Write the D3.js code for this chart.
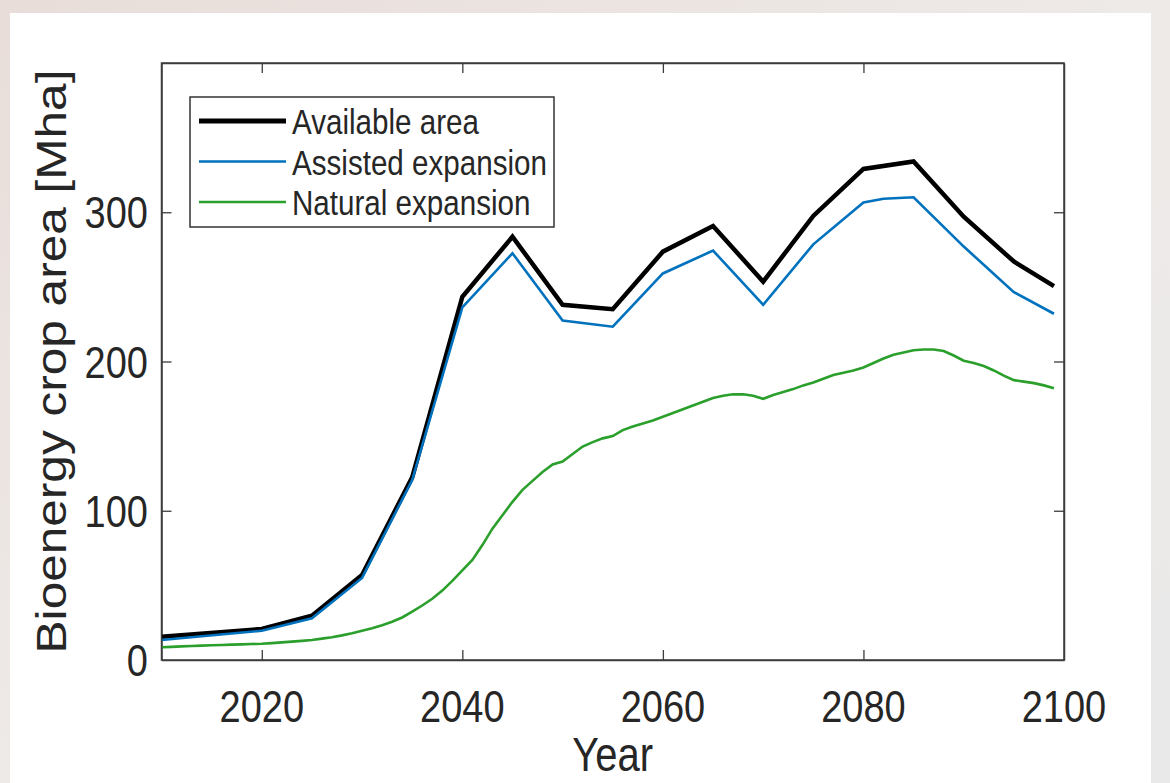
<!DOCTYPE html>
<html>
<head>
<meta charset="utf-8">
<script src="https://cdn.jsdelivr.net/npm/d3@7"></script>
<style>
  html, body { margin: 0; padding: 0; }
  body { width: 1170px; height: 783px; overflow: hidden; background: #e9e4e2; }
  svg text { font-family: "Liberation Sans", Arial, Helvetica, sans-serif; fill: #262626; }
</style>
</head>
<body>
<svg id="chart" width="1170" height="783"></svg>
<script>
// Available area (5-year steps, last value 2099)
const availYears  = [2010, 2020, 2025, 2030, 2035, 2040, 2045, 2050, 2055, 2060, 2065, 2070, 2075, 2080, 2085, 2090, 2095, 2099];
const availValues = [15.5, 20.8, 29.7, 57, 122.4, 243.4, 283.6, 238, 235, 273.6, 290.8, 253.5, 297.5, 329, 334, 297, 267, 250.5];

// Assisted expansion
const assistYears  = [2010, 2020, 2025, 2030, 2035, 2040, 2045, 2050, 2055, 2060, 2065, 2070, 2075, 2080, 2082, 2085, 2090, 2095, 2099];
const assistValues = [13.4, 19.6, 28, 55, 120.6, 236.3, 272.5, 227.4, 223.3, 259, 274.3, 238, 278.5, 306.5, 309, 310, 277, 246.5, 232];

// Natural expansion (annual, 2010-2099)
const naturalStart = 2010;
const naturalValues = [
  8.5, 8.8, 9.1, 9.4, 9.6, 9.9, 10.1, 10.3, 10.5, 10.7,
  10.9, 11.3, 11.8, 12.3, 12.8, 13.4, 14.3, 15.3, 16.5, 17.9,
  19.6, 21.3, 23.3, 25.6, 28.5, 32.4, 36.5, 41, 46.5, 53,
  60, 67, 77, 88, 97, 106, 114, 120, 126, 131,
  133, 138, 143, 146, 148.5, 150, 154, 156.5, 158.5, 160.5,
  163, 165.5, 168, 170.5, 173, 175.5, 177, 178, 178, 177,
  175, 177.5, 179.5, 181.5, 184, 186, 188.5, 191, 192.5, 194,
  196, 199, 202, 204.5, 206, 207.5, 208, 208, 207, 204,
  200.5, 199, 197, 194, 190.5, 187.5, 186.5, 185.5, 184, 182
];

const xTicks = [2020, 2040, 2060, 2080, 2100];
const yTicks = [0, 100, 200, 300];
const seriesNames = ["Available area", "Assisted expansion", "Natural expansion"];
const seriesColors = ["#000000", "#0072bd", "#2b9f2b"];
const seriesWidths = [4.5, 2.6, 2.6];

const svg = d3.select("#chart");
const W = 1170, H = 783;
const plot = { left: 161.5, right: 1064, top: 63, bottom: 660 };
const stretch = 1.18;   // vertical stretch of all lettering

// page backdrop and white panel
const defs = svg.append("defs");
const bg = defs.append("linearGradient").attr("id", "bgGrad").attr("x1", 0).attr("x2", 1).attr("y1", 0).attr("y2", 1);
bg.append("stop").attr("offset", "0%").attr("stop-color", "#e8ddd9");
bg.append("stop").attr("offset", "50%").attr("stop-color", "#eeeae8");
bg.append("stop").attr("offset", "100%").attr("stop-color", "#e9e9e9");
svg.append("rect").attr("width", W).attr("height", H).attr("fill", "url(#bgGrad)");
svg.append("rect").attr("x", 10).attr("y", 13).attr("width", 1141).attr("height", H - 13).attr("fill", "#ffffff");

const x = d3.scaleLinear().domain([2010, 2100]).range([plot.left, plot.right]);
const y = d3.scaleLinear().domain([0, 400]).range([plot.bottom, plot.top]);

const axisColor = "#3c3c3c";
const tickLen = 10;

// axes with inward ticks on all four sides
function styleAxis(g) {
  g.selectAll("path").attr("stroke", axisColor).attr("stroke-width", 1.5);
  g.selectAll("line").attr("stroke", axisColor).attr("stroke-width", 1.3);
  g.selectAll("text").remove();
}
svg.append("g").attr("transform", `translate(0,${plot.bottom})`)
  .call(d3.axisBottom(x).tickValues(xTicks.filter(t => t < 2100)).tickSizeInner(-tickLen).tickSizeOuter(0)).call(styleAxis);
svg.append("g").attr("transform", `translate(0,${plot.top})`)
  .call(d3.axisTop(x).tickValues(xTicks.filter(t => t < 2100)).tickSizeInner(-tickLen).tickSizeOuter(0)).call(styleAxis);
svg.append("g").attr("transform", `translate(${plot.left},0)`)
  .call(d3.axisLeft(y).tickValues(yTicks.filter(t => t > 0)).tickSizeInner(-tickLen).tickSizeOuter(0)).call(styleAxis);
svg.append("g").attr("transform", `translate(${plot.right},0)`)
  .call(d3.axisRight(y).tickValues(yTicks.filter(t => t > 0)).tickSizeInner(-tickLen).tickSizeOuter(0)).call(styleAxis);

// tick labels
xTicks.forEach(t => {
  svg.append("g").attr("transform", `translate(${x(t)},722) scale(1,${stretch})`)
    .append("text").attr("text-anchor", "middle").attr("font-size", 38).text(t);
});
yTicks.forEach(t => {
  svg.append("g").attr("transform", `translate(148,${y(t) + 16}) scale(1,${stretch})`)
    .append("text").attr("text-anchor", "end").attr("font-size", 38).text(t);
});

// axis titles
svg.append("g").attr("transform", `translate(${(plot.left + plot.right) / 2},771) scale(1,${stretch})`)
  .append("text").attr("text-anchor", "middle").attr("font-size", 40).text("Year");
svg.append("g").attr("transform", `translate(66,${(plot.top + plot.bottom) / 2}) rotate(-90) scale(${stretch},1)`)
  .append("text").attr("text-anchor", "middle").attr("font-size", 42).text("Bioenergy crop area [Mha]");

// series
const line = d3.line().x(d => x(d[0])).y(d => y(d[1]));
const clip = defs.append("clipPath").attr("id", "plotClip");
clip.append("rect").attr("x", plot.left).attr("y", plot.top).attr("width", plot.right - plot.left).attr("height", plot.bottom - plot.top);
const gLines = svg.append("g").attr("clip-path", "url(#plotClip)");

const naturalData = naturalValues.map((v, i) => [naturalStart + i, v]);
const assistData = assistYears.map((yr, i) => [yr, assistValues[i]]);
const availData = availYears.map((yr, i) => [yr, availValues[i]]);

[[naturalData, 2], [availData, 0], [assistData, 1]].forEach(([data, k]) => {
  gLines.append("path").datum(data)
    .attr("fill", "none").attr("stroke", seriesColors[k]).attr("stroke-width", seriesWidths[k])
    .attr("stroke-linejoin", "miter").attr("stroke-miterlimit", 3)
    .attr("d", line);
});

// box outline on top of the data
svg.append("rect").attr("x", plot.left).attr("y", plot.top)
  .attr("width", plot.right - plot.left).attr("height", plot.bottom - plot.top)
  .attr("fill", "none").attr("stroke", axisColor).attr("stroke-width", 1.5);

// legend
const leg = svg.append("g");
leg.append("rect").attr("x", 190).attr("y", 97).attr("width", 364).attr("height", 130)
  .attr("fill", "#ffffff").attr("stroke", "#333333").attr("stroke-width", 1.5);
const rowY = [121, 161.5, 202];
seriesNames.forEach((name, i) => {
  leg.append("line").attr("x1", 199).attr("x2", 286).attr("y1", rowY[i]).attr("y2", rowY[i])
    .attr("stroke", seriesColors[i]).attr("stroke-width", i === 0 ? 5 : 2.6);
  leg.append("g").attr("transform", `translate(292,${rowY[i] + 13}) scale(1,${stretch})`)
    .append("text").attr("font-size", 29.6).attr("fill", "#111").text(name);
});
</script>
</body>
</html>
